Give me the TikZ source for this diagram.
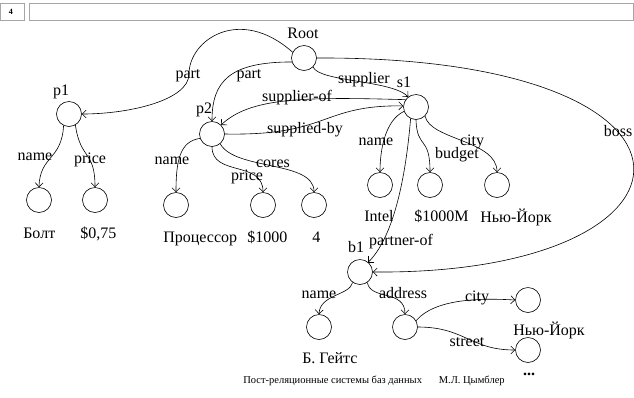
\documentclass[tikz,border=0pt]{standalone}
\usepackage{fontspec}
\setmainfont{Liberation Serif}
\usetikzlibrary{arrows.meta}

\begin{document}
\begin{tikzpicture}[
                x=1pt, y=-1pt, % 按像素坐标
                obj/.style={circle, draw, minimum size=25pt, inner sep=0pt},
                txt/.style={inner sep=0pt, anchor=base, font=\fontsize{16}{18}\selectfont},
                val/.style={txt, anchor=base west},
                >={Straight Barb[length=4pt,width=8pt]},
                line width=0.6pt,
            ]
            \useasboundingbox (0,0) rectangle (634,397);
            % 页眉
            \draw[gray!70] (0.5,3.5) rectangle (24,20.5);
            \draw[gray!70] (29,3.5) rectangle (633.5,20.5);
            \node[inner sep=0pt, font=\fontsize{8}{9}\selectfont\bfseries] (num) at (11,12) {4};

            % 对象
            \node[obj] (root) at (304,58) {};
            \node[obj] (p1) at (69,114) {};
            \node[obj] (p2) at (212,134) {};
            \node[obj] (s1) at (416,107) {};
            \node[obj] (b1) at (360,272) {};
            \node[obj] (bolt) at (39,200) {};
            \node[obj] (pricea) at (95,200) {};
            \node[obj] (cpu) at (176,205) {};
            \node[obj] (priceb) at (263,205) {};
            \node[obj] (cores) at (314,205) {};
            \node[obj] (intel) at (380,185) {};
            \node[obj] (budget) at (430,185) {};
            \node[obj] (citya) at (497,185) {};
            \node[obj] (gates) at (319,327) {};
            \node[obj] (addr) at (405,327) {};
            \node[obj] (cityb) at (528,300) {};
            \node[obj] (street) at (528,350) {};

            % 名字
            \node[txt] (troot) at (303,38) {Root};
            \node[txt] (tp1) at (61,95) {p1};
            \node[txt] (tp2) at (204,113) {p2};
            \node[txt] (ts1) at (404,87) {s1};
            \node[txt] (tb1) at (356,252) {b1};

            % 值
            \node[val] (vbolt) at (23,238) {Болт};
            \node[val] (vpricea) at (80,238) {\$0,75};
            \node[val] (vcpu) at (163,242) {Процессор};
            \node[val] (vpriceb) at (247,242) {\$1000};
            \node[val] (vcores) at (312,242) {4};
            \node[val] (vintel) at (364,221) {Intel};
            \node[val] (vbudget) at (414,221) {\$1000M};
            \node[val] (vcitya) at (480,222) {Нью-Йорк};
            \node[val] (vgates) at (302,363) {Б. Гейтс};
            \node[val] (vcityb) at (513,335) {Нью-Йорк};
            \node[txt] (dots) at (529,375) {\textbf{...}};

            % 边
            \coordinate (kpart) at (189,74);
            \draw[->] (root.153) .. controls +(-53,-47) and +(0,-34) .. (kpart)
                .. controls +(0,26) and +(48,0) .. (p1.east);
            \draw[->] (root.198) .. controls +(-62,0) and +(0,-40) .. (p2.north);
            \draw[->] (root.-45) .. controls +(7,15) and +(-18,-17) .. (s1.127);
            \draw[->] (s1.145) .. controls +(-105,-3) and +(29,-27) .. (p2.45);
            \draw[->] (p2.east) .. controls +(105,2) and +(-83,-1) .. (s1.175);
            \draw[->] (root.east) .. controls +(423,-2) and +(347,3) .. (b1.east);
            \draw[->] (s1.-115) .. controls +(-6,72) and +(22,-22) .. (b1.50);
            \draw[->] (s1.-160) .. controls +(-19,9) and +(0,-22) .. (intel.north);
            \draw[->] (s1.-90) .. controls +(1,30) and +(0,-37) .. (budget.north);
            \draw[->] (s1.-45) .. controls +(5,24) and +(0,-32) .. (citya.north);
            \draw[->] (p1.-115) .. controls +(-2,35) and +(1,-32) .. (bolt.north);
            \draw[->] (p1.-60) .. controls +(5,35) and +(0,-37) .. (pricea.north);
            \draw[->] (p2.-160) .. controls +(-20,3) and +(0,-32) .. (cpu.north);
            \draw[->] (p2.-90) .. controls +(0,30) and +(0,-32) .. (priceb.north);
            \draw[->] (p2.-50) .. controls +(15,27) and +(0,-32) .. (cores.north);
            \draw[->] (b1.-125) .. controls +(-3,13) and +(1,-20) .. (gates.north);
            \draw[->] (b1.-55) .. controls +(3,18) and +(0,-25) .. (addr.north);
            \draw[->] (addr.30) .. controls +(19,-22) and +(-35,-2) .. (cityb.west);
            \draw[->] (addr.east) .. controls +(47,0) and +(-45,0) .. (street.west);

            % 边的标签
            \node[txt] (lpart1) at (188,78) {part};
            \node[txt] (lpart2) at (249,78) {part};
            \node[txt] (lsup) at (364,83) {supplier};
            \node[txt] (lsupof) at (297,101) {supplier-of};
            \node[txt] (lsupby) at (305,133) {supplied-by};
            \node[txt] (lboss) at (618,136) {boss};
            \node[txt] (lpartner) at (401,245) {partner-of};
            \node[txt] (lnames) at (376,145) {name};
            \node[txt] (lbudget) at (457,158) {budget};
            \node[txt] (lcitys) at (472,145) {city};
            \node[txt] (lnamep1) at (35,160) {name};
            \node[txt] (lpricep1) at (90,163) {price};
            \node[txt] (lnamep2) at (172,164) {name};
            \node[txt] (lpricep2) at (247,180) {price};
            \node[txt] (lcores) at (273,167) {cores};
            \node[txt] (lnameb1) at (319,298) {name};
            \node[txt] (laddr) at (403,298) {address};
            \node[txt] (lcityb) at (477,301) {city};
            \node[txt] (lstreet) at (467,346) {street};

            % 页脚
            \node[inner sep=0pt, anchor=base west, font=\fontsize{10.5}{12}\selectfont] (foot) at (243,383)
                {Пост-реляционные системы баз данных\hspace{1.6em}М.Л. Цымблер};
            \end{tikzpicture}
\end{document}
